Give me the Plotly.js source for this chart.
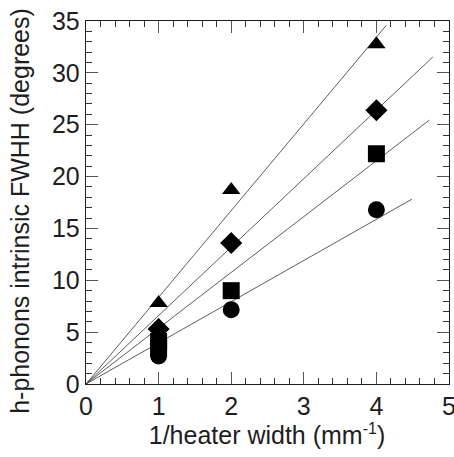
<!DOCTYPE html>
<html>
<head>
<meta charset="utf-8">
<script src="https://cdn.plot.ly/plotly-3.0.1.min.js"></script>
<style>
  html, body { margin: 0; padding: 0; background: #fff; }
  #wrap { position: relative; width: 454px; height: 457px; }
  #chart { position: absolute; left: 0; top: 0; width: 454px; height: 457px; }
  .axtitle {
    position: absolute;
    font-family: 'Liberation Sans', Arial, Helvetica, sans-serif;
    font-size: 25px;
    line-height: 25px;
    color: #1e1e1e;
    white-space: nowrap;
  }
  #ytitle { left: 19.5px; top: 211px; transform: translate(-50%, -50%) rotate(-90deg); }
  #xtitle { left: 267px; top: 423px; transform: translateX(-50%); }
  #xtitle sup { font-size: 16px; line-height: 0; vertical-align: 10px; }
</style>
</head>
<body>
<div id="wrap">
  <div id="chart"></div>
  <div id="ytitle" class="axtitle"></div>
  <div id="xtitle" class="axtitle"></div>
</div>
<script>
// Inverse heater width (mm^-1) for the measured points
const xTriangle = [1, 2, 4];
const yTriangle = [7.8, 18.7, 32.75];

const xDiamond = [1, 2, 4];
const yDiamond = [5.3, 13.6, 26.4];

const xSquare = [1, 1, 2, 4];
const ySquare = [4.1, 3.5, 9.0, 22.2];

const xCircle = [1, 2, 4];
const yCircle = [2.7, 7.15, 16.8];

// Linear fits through the origin: slope and the x where each line stops
const fitSlopes = [8.36, 6.60, 5.38, 3.97];
const fitEnds = [4.137, 4.777, 4.73, 4.489];

const xTicks = [0, 1, 2, 3, 4, 5];
const yTicks = [0, 5, 10, 15, 20, 25, 30, 35];

const yTitle = 'h-phonons intrinsic FWHH (degrees)';
const xTitle = '1/heater width (mm<sup>-1</sup>)';

const font = "'Liberation Sans', Arial, Helvetica, sans-serif";
const ink = '#1e1e1e';

// One scatter trace: fit segments separated by gaps, then the symbols on top
const X = [], Y = [], S = [], Z = [];
fitSlopes.forEach((m, i) => {
  X.push(0, fitEnds[i], null);
  Y.push(0, m * fitEnds[i], null);
  S.push('circle', 'circle', 'circle');
  Z.push(0, 0, 0);
});
function addPoints(xs, ys, symbol, size) {
  xs.forEach((x, i) => {
    X.push(x, null);
    Y.push(ys[i], null);
    S.push(symbol, symbol);
    Z.push(size, 0);
  });
}
addPoints(xSquare, ySquare, 'square', 17);
addPoints(xCircle, yCircle, 'circle', 17);
addPoints(xDiamond, yDiamond, 'diamond', 17);
addPoints(xTriangle, yTriangle, 'triangle-up', 16);

const trace = {
  x: X, y: Y,
  mode: 'lines+markers',
  connectgaps: false,
  line: { color: '#333', width: 0.8 },
  marker: { symbol: S, size: Z, color: '#000', opacity: 1, line: { width: 0, color: '#000' } },
  cliponaxis: false
};

const axisCommon = {
  showline: true, linecolor: ink, linewidth: 1.3, mirror: 'allticks',
  ticks: 'inside', ticklen: 12, tickwidth: 1.2, tickcolor: '#555',
  showgrid: false, zeroline: false, ticklabeloverflow: 'allow',
  tickfont: { family: font, size: 25, color: ink }, automargin: false, fixedrange: true
};

const layout = {
  width: 454,
  height: 457,
  margin: { l: 86, r: 5, t: 21, b: 73 },
  xaxis: Object.assign({}, axisCommon, {
    range: [0, 5], tickmode: 'array', tickvals: xTicks, ticktext: xTicks.map(String),
    minor: { tickmode: 'linear', tick0: 0, dtick: 0.2, ticks: 'inside', ticklen: 6, tickwidth: 1, tickcolor: '#333' }
  }),
  yaxis: Object.assign({}, axisCommon, {
    range: [0, 35], tickmode: 'array', tickvals: yTicks, ticktext: yTicks.map(String),
    minor: { tickmode: 'linear', tick0: 0, dtick: 1, ticks: 'inside', ticklen: 6, tickwidth: 1, tickcolor: '#333' }
  })
};

Plotly.newPlot('chart', [trace], layout, { displayModeBar: false, staticPlot: true }).then(gd => {
  // axis titles sit beside the plot area
  document.getElementById('ytitle').textContent = yTitle;
  document.getElementById('xtitle').innerHTML = xTitle;
  if (!gd.querySelector('path.xtick')) {
    return Plotly.relayout(gd, { 'xaxis.ticklen': 12, 'yaxis.ticklen': 12 });
  }
});
</script>
</body>
</html>
